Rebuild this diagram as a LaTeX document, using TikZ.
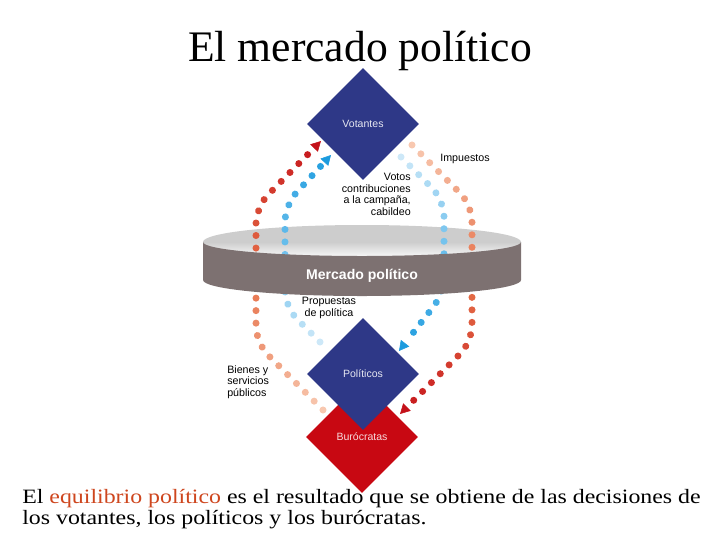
\documentclass[tikz,border=0pt]{standalone}
\usepackage{fontspec}
\setmainfont{Liberation Serif}
\setsansfont{Liberation Sans}
\newfontfamily\bodyfont{Liberation Serif}[FakeStretch=1.17]
\usetikzlibrary{shapes.geometric,decorations.markings,arrows.meta}

\definecolor{votblue}{RGB}{46,56,135}
\definecolor{burred}{RGB}{200,8,18}
\definecolor{disktop}{RGB}{205,205,205}
\definecolor{diskside}{RGB}{125,113,113}
\definecolor{peach}{RGB}{248,200,176}
\definecolor{orangedot}{RGB}{230,112,72}
\definecolor{reddot}{RGB}{196,18,26}
\definecolor{paleblue}{RGB}{205,232,248}
\definecolor{midblue}{RGB}{105,190,236}
\definecolor{brightblue}{RGB}{28,155,222}
\definecolor{eqorange}{RGB}{206,70,30}

\begin{document}
\begin{tikzpicture}[%
      x=0.025cm, y=-0.025cm,
      actor/.style={diamond, aspect=1, inner sep=0pt, minimum size=2.8cm,
        font=\sffamily\fontsize{7.5}{9}\selectfont},
      tag/.style={font=\sffamily\fontsize{7.6}{8.3}\selectfont, inner sep=0pt},
      dotchain/.style n args={3}{decorate, decoration={markings,
          mark=between positions 0 and -9pt step 8.9pt with {%
            \pgfmathtruncatemacro\dotpct{\pgfkeysvalueof{/pgf/decoration/mark info/distance from start}/\pgfdecoratedpathlength*100}%
            \ifnum\dotpct<50
              \pgfmathtruncatemacro\dotmix{2*\dotpct}%
              \colorlet{dotc}{#2!\dotmix!#1}%
            \else
              \pgfmathtruncatemacro\dotmix{2*\dotpct-100}%
              \colorlet{dotc}{#3!\dotmix!#2}%
            \fi
            \fill[dotc] (0,0) circle (2.5pt);},
          mark=at position 1 with {\arrow{Triangle[length=7pt,width=7.5pt,color=#3]}}}},
      ]
      \useasboundingbox (0,0) rectangle (720,540);

      \node[anchor=base, font=\fontsize{31}{37}\selectfont] (title) at (360,61) {El mercado político};

      % disco: cara superior
      \shade[top color=disktop, bottom color=white, middle color=disktop] (362,242) ellipse (159 and 17);

      % cadenas de puntos
      \coordinate (lo1) at (323,410);
      \coordinate (lo2) at (256,343);
      \coordinate (lo3) at (256,207);
      \coordinate (lo4) at (321,141);
      \coordinate (li1) at (320,342);
      \coordinate (li2) at (285,307);
      \coordinate (li3) at (285,205);
      \coordinate (li4) at (331,155);
      \coordinate (ri1) at (401,157);
      \coordinate (ri2) at (444,200);
      \coordinate (ri3) at (444,293);
      \coordinate (ri4) at (399,351);
      \coordinate (ro1) at (412,145);
      \coordinate (ro2) at (472,205);
      \coordinate (ro3) at (472,342);
      \coordinate (ro4) at (400,414);

      \path[dotchain={peach}{orangedot}{reddot}, rounded corners=12pt] (lo1) -- (lo2) -- (lo3) -- (lo4);
      \path[dotchain={paleblue}{midblue}{brightblue}, rounded corners=12pt] (li1) -- (li2) -- (li3) -- (li4);
      \path[dotchain={paleblue}{midblue}{brightblue}, rounded corners=12pt] (ri1) -- (ri2) -- (ri3) -- (ri4);
      \path[dotchain={peach}{orangedot}{reddot}, rounded corners=12pt] (ro1) -- (ro2) -- (ro3) -- (ro4);

      % disco: lado
      \fill[diskside] (203,242) -- (203,280) arc[start angle=180, end angle=0, x radius=159, y radius=16]
        -- (521,242) arc[start angle=0, end angle=180, x radius=159, y radius=14] -- cycle;
      \node[font=\sffamily\bfseries\fontsize{10}{12}\selectfont, text=white] (mercado) at (362,276) {Mercado político};

      \node[actor, fill=votblue, text=white!88!votblue] (votantes) at (363,124) {Votantes};
      \node[actor, fill=burred, text=white!85!burred] (burocratas) at (362,437) {Burócratas};
      \node[actor, fill=votblue, text=white!88!votblue] (politicos) at (363,374) {Políticos};

      \node[tag] (impuestos) at (465,159) {Impuestos};
      \node[tag, align=right, anchor=north east] (votos) at (411,173) {Votos\\contribuciones\\a la campaña,\\cabildeo};
      \node[tag, align=center] (propuestas) at (329,308) {Propuestas\\de política};
      \node[tag, align=left, anchor=west] (bienes) at (227,382) {Bienes y\\servicios\\públicos};

      \node[anchor=base west, inner sep=0pt, font=\bodyfont\fontsize{14.5}{17}\selectfont] (linea1) at (22,503)
        {El \textcolor{eqorange}{equilibrio político} es el resultado que se obtiene de las decisiones de};
      \node[anchor=base west, inner sep=0pt, font=\bodyfont\fontsize{14.5}{17}\selectfont] (linea2) at (22,524)
        {los votantes, los políticos y los burócratas.};
      \end{tikzpicture}
\end{document}
